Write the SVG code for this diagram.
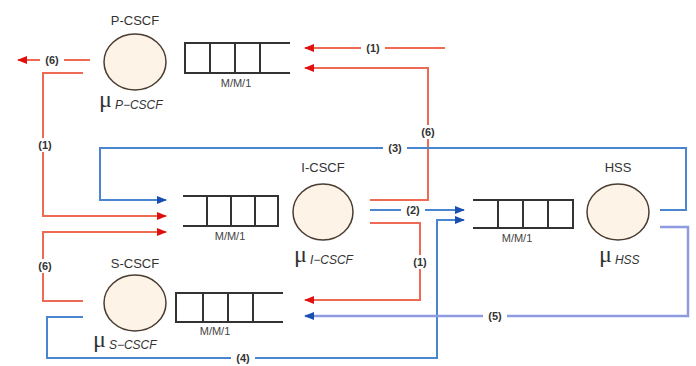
<svg xmlns="http://www.w3.org/2000/svg" width="696" height="366" viewBox="0 0 696 366">
<style>
.red{fill:none;stroke:#ef6a55;stroke-width:2}
.blue{fill:none;stroke:#4a86d0;stroke-width:2}
.lav{fill:none;stroke:#8e9be0;stroke-width:2.5}
.q{fill:none;stroke:#333;stroke-width:2}
.srv{fill:#fdf3e6;stroke:#4a3c30;stroke-width:1.5}
.name{font-family:"Liberation Sans",Arial,sans-serif;font-size:13px;fill:#333;text-anchor:middle}
.mm{font-family:"Liberation Sans",Arial,sans-serif;font-size:11px;fill:#444;text-anchor:middle}
.mu{font-family:"Liberation Serif",serif;font-size:24px;fill:#333}
.sub{font-family:"Liberation Sans",Arial,sans-serif;font-size:12px;font-style:italic;fill:#333}
.lbl{font-family:"Liberation Sans",Arial,sans-serif;font-size:11px;font-weight:bold;fill:#333;text-anchor:middle}
.bg{fill:#fff}
</style>
<defs>
<marker id="ar" markerWidth="10" markerHeight="8" refX="9" refY="4" orient="auto" markerUnits="userSpaceOnUse"><path d="M0,0 L10,4 L0,8 Z" fill="#e01010"/></marker>
<marker id="ab" markerWidth="10" markerHeight="8" refX="9" refY="4" orient="auto" markerUnits="userSpaceOnUse"><path d="M0,0 L10,4 L0,8 Z" fill="#1a4fb0"/></marker>
</defs>
<rect width="696" height="366" fill="#fff"/>
<g id="connectors">
<path class="red" d="M445,48 H305" marker-end="url(#ar)"/>
<path class="red" d="M370,200 H428 V68 H305" marker-end="url(#ar)"/>
<path class="red" d="M90,60 H18" marker-end="url(#ar)"/>
<path class="red" d="M83,73 H43 V216 H166" marker-end="url(#ar)"/>
<path class="red" d="M83,301 H43 V232 H166" marker-end="url(#ar)"/>
<path class="red" d="M370,223 H420 V300 H305" marker-end="url(#ar)"/>
<path class="blue" d="M660,210 H686 V148 H100 V200 H166" marker-end="url(#ab)"/>
<path class="blue" d="M370,210 H464" marker-end="url(#ab)"/>
<path class="blue" d="M83,317 H47 V358 H437 V220 H464" marker-end="url(#ab)"/>
<path class="lav" d="M660,227 H688 V316 H305" marker-end="url(#ab)"/>
<rect class="bg" x="40" y="53" width="24" height="14"/>
<text class="lbl" x="52" y="64">(6)</text>
<rect class="bg" x="361" y="41" width="24" height="14"/>
<text class="lbl" x="373" y="52">(1)</text>
<rect class="bg" x="33" y="138" width="24" height="14"/>
<text class="lbl" x="45" y="149">(1)</text>
<rect class="bg" x="416" y="125" width="24" height="14"/>
<text class="lbl" x="428" y="136">(6)</text>
<rect class="bg" x="383" y="141" width="24" height="14"/>
<text class="lbl" x="395" y="152">(3)</text>
<rect class="bg" x="401" y="203" width="24" height="14"/>
<text class="lbl" x="413" y="214">(2)</text>
<rect class="bg" x="408" y="255" width="24" height="14"/>
<text class="lbl" x="420" y="266">(1)</text>
<rect class="bg" x="33" y="259" width="24" height="14"/>
<text class="lbl" x="45" y="270">(6)</text>
<rect class="bg" x="483" y="309" width="24" height="14"/>
<text class="lbl" x="495" y="320">(5)</text>
<rect class="bg" x="231" y="351" width="24" height="14"/>
<text class="lbl" x="243" y="362">(4)</text>
</g>
<g id="p-cscf">
<text class="name" x="135" y="25">P-CSCF</text>
<ellipse class="srv" cx="135" cy="62" rx="31" ry="28"/>
<text x="99" y="107"><tspan class="mu">μ</tspan><tspan class="sub" dx="3" dy="2">P−CSCF</tspan></text>
</g>
<g id="p-queue">
<path class="q" d="M290,43 H185 V73 H290 M210,43 V73 M235,43 V73 M260,43 V73"/>
<text class="mm" x="236" y="87">M/M/1</text>
</g>
<g id="i-cscf">
<text class="name" x="323" y="172">I-CSCF</text>
<ellipse class="srv" cx="323" cy="212" rx="30" ry="28"/>
<text x="294" y="262"><tspan class="mu">μ</tspan><tspan class="sub" dx="3" dy="2">I−CSCF</tspan></text>
</g>
<g id="i-queue">
<path class="q" d="M183,196 H278 V226 H183 M207,196 V226 M231,196 V226 M255,196 V226"/>
<text class="mm" x="230" y="240">M/M/1</text>
</g>
<g id="hss">
<text class="name" x="618" y="172">HSS</text>
<ellipse class="srv" cx="618" cy="212" rx="31" ry="28"/>
<text x="599" y="262"><tspan class="mu">μ</tspan><tspan class="sub" dx="3" dy="2">HSS</tspan></text>
</g>
<g id="hss-queue">
<path class="q" d="M473,200 H573 V228 H473 M498,200 V228 M523,200 V228 M548,200 V228"/>
<text class="mm" x="517" y="242">M/M/1</text>
</g>
<g id="s-cscf">
<text class="name" x="135" y="268">S-CSCF</text>
<ellipse class="srv" cx="135" cy="303" rx="31" ry="28"/>
<text x="93" y="347"><tspan class="mu">μ</tspan><tspan class="sub" dx="3" dy="2">S−CSCF</tspan></text>
</g>
<g id="s-queue">
<path class="q" d="M283,293 H176 V322 H283 M203,293 V322 M228,293 V322 M253,293 V322"/>
<text class="mm" x="215" y="335">M/M/1</text>
</g>
</svg>
